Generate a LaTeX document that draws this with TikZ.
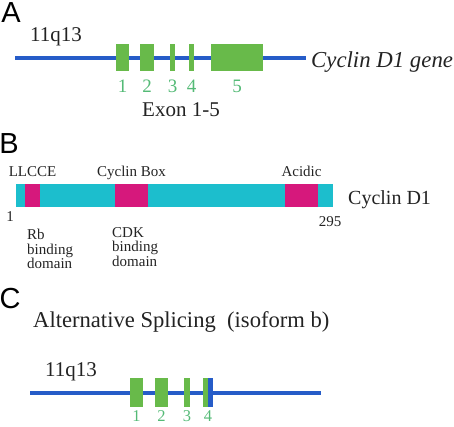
\documentclass[tikz,border=0pt]{standalone}
\usepackage{fontspec}
\setmainfont{Liberation Serif}
\setsansfont{Liberation Sans}
\usetikzlibrary{positioning}

\definecolor{geneblue}{RGB}{38,92,200}
\definecolor{exongreen}{RGB}{104,186,74}
\definecolor{numgreen}{RGB}{84,186,118}
\definecolor{protcyan}{RGB}{28,190,205}
\definecolor{domainpink}{RGB}{214,24,124}
\definecolor{inkgray}{RGB}{35,35,35}

\begin{document}
\begin{tikzpicture}[x=1pt,y=-1pt,font=\fontsize{21}{24}\selectfont,inner sep=0pt,text=inkgray,
  panel/.style={font=\sffamily\fontsize{29}{29}\selectfont,text=black},
  geneline/.style={geneblue,line width=4.5pt},
  exon/.style={fill=exongreen,minimum height=#1},
  exnum/.style={text=numgreen,anchor=north},
  domblock/.style={fill=domainpink,minimum height=23pt},
  small/.style={font=\fontsize{15}{14.5}\selectfont}]
  \useasboundingbox (0,0) rectangle (454,427);

  % A: gene, exons 1-5
  \node[panel] (labA) at (11,12.5) {A};
  \node[anchor=base west] (locA) at (30,42) {11q13};
  \coordinate (geneAl) at (15,58);
  \coordinate (geneAr) at (306,58);
  \draw[geneline] (geneAl) -- (geneAr);
  \foreach \n/\c/\w in {1/122.5/13, 2/147/14, 3/172.5/5, 4/191.5/5, 5/237/52} {
    \node[exon=27pt,minimum width=\w pt] (exA\n) at (\c,57.5) {};
    \node[exnum,font=\fontsize{19}{19}\selectfont] (numA\n) at ([yshift=-9pt]exA\n.south) {\n};
  }
  \node[anchor=base] (exlbl) at (181,117) {Exon 1-5};
  \node[anchor=base west,font=\itshape\fontsize{22.8}{24}\selectfont] (geneA) at (311,68) {Cyclin D1 gene};

  % B: protein, 295 aa
  \node[panel] (labB) at (9,144) {B};
  \node[fill=protcyan,minimum width=317pt,minimum height=23pt] (prot) at (174.5,195.5) {};
  \foreach \d/\c/\w/\t in {LL/32.5/15/LLCCE, Box/131.5/33/Cyclin Box, Ac/301.5/33/Acidic} {
    \node[domblock,minimum width=\w pt] (dom\d) at (\c,195.5) {};
    \node[small,anchor=base] (top\d) at ([yshift=7pt]dom\d.north) {\t};
  }
  \node[anchor=base west,font=\fontsize{20}{24}\selectfont] (protname) at (348,205) {Cyclin D1};
  \node[small,anchor=base] (aaFirst) at (10,222) {1};
  \node[small,anchor=base] (aaLast) at (330,226) {295};
  \node[small,anchor=north west,align=left] (rbdom) at (27,229) {Rb\\binding\\domain};
  \node[small,anchor=north west,align=left] (cdkdom) at (112,227) {CDK\\binding\\domain};

  % C: isoform b, exons 1-4
  \node[panel] (labC) at (10,299) {C};
  \node[anchor=base west,font=\fontsize{22.6}{24}\selectfont] (splice) at (33,327) {Alternative Splicing\ \ (isoform b)};
  \node[anchor=base west] (locC) at (45,376) {11q13};
  \coordinate (geneCl) at (30,393);
  \coordinate (geneCr) at (321,393);
  \draw[geneline] (geneCl) -- (geneCr);
  \foreach \n/\c/\w in {1/136.5/13, 2/161.5/13, 3/187/6, 4/208/10} {
    \node[exon=29pt,minimum width=\w pt] (exC\n) at (\c,392.5) {};
    \node[exnum,font=\fontsize{16.5}{17}\selectfont] (numC\n) at ([yshift=-3pt]exC\n.south) {\n};
  }
  % exon 4 ends early
  \fill[geneblue] (exC4.north) rectangle (exC4.south east);
\end{tikzpicture}
\end{document}
